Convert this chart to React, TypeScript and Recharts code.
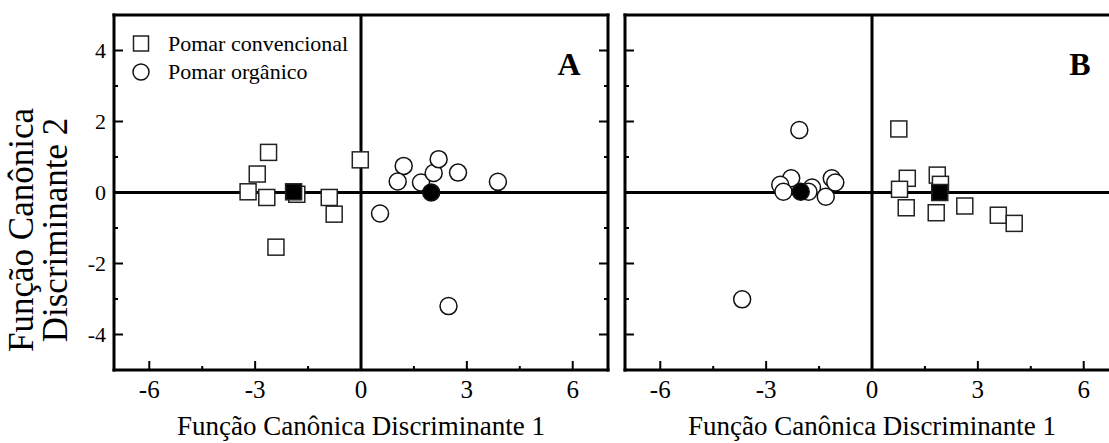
import React from 'react';
import { ScatterChart, Scatter, XAxis, YAxis, ReferenceLine } from 'recharts';

// ---------- data ----------
const xDomain: [number, number] = [-7, 7];
const yDomain: [number, number] = [-5, 5];
const xTicks = [-6, -4.5, -3, -1.5, 0, 1.5, 3, 4.5, 6];
const xTickLabels = [-6, -3, 0, 3, 6];
const yTicks = [-4, -3, -2, -1, 0, 1, 2, 3, 4];
const yTickLabels = [-4, -2, 0, 2, 4];

const convencionalA = [
  { x: -2.62, y: 1.13 },
  { x: -2.94, y: 0.52 },
  { x: -3.2, y: 0.02 },
  { x: -2.67, y: -0.14 },
  { x: -1.82, y: -0.05 },
  { x: -0.9, y: -0.14 },
  { x: -0.76, y: -0.61 },
  { x: -2.41, y: -1.54 },
  { x: -0.02, y: 0.92 },
];
const organicoA = [
  { x: 1.21, y: 0.75 },
  { x: 1.04, y: 0.31 },
  { x: 1.7, y: 0.28 },
  { x: 2.06, y: 0.55 },
  { x: 2.2, y: 0.94 },
  { x: 2.75, y: 0.56 },
  { x: 3.88, y: 0.3 },
  { x: 0.54, y: -0.59 },
  { x: 2.48, y: -3.2 },
];
const centroideConvA = [{ x: -1.91, y: 0.02 }];
const centroideOrgA = [{ x: 1.99, y: 0.0 }];

const convencionalB = [
  { x: 0.76, y: 1.79 },
  { x: 1.0, y: 0.4 },
  { x: 0.78, y: 0.09 },
  { x: 1.85, y: 0.49 },
  { x: 1.94, y: 0.23 },
  { x: 0.97, y: -0.43 },
  { x: 1.82, y: -0.57 },
  { x: 2.63, y: -0.38 },
  { x: 3.58, y: -0.64 },
  { x: 4.03, y: -0.87 },
];
const organicoB = [
  { x: -2.06, y: 1.76 },
  { x: -3.68, y: -3.01 },
  { x: -2.29, y: 0.4 },
  { x: -2.6, y: 0.22 },
  { x: -2.51, y: 0.02 },
  { x: -1.7, y: 0.14 },
  { x: -1.8, y: 0.02 },
  { x: -1.14, y: 0.4 },
  { x: -1.04, y: 0.28 },
  { x: -1.31, y: -0.12 },
];
const centroideConvB = [{ x: 1.92, y: 0.0 }];
const centroideOrgB = [{ x: -2.02, y: 0.02 }];

const legendLabels = ['Pomar convencional', 'Pomar orgânico'];
const xTitle = 'Função Canônica Discriminante 1';
const yTitleLines = ['Função Canônica', 'Discriminante 2'];

// ---------- styles ----------
const FONT = 'Liberation Serif, Times New Roman, serif';
const CHART_H = 443;
const MARGIN_TOP = 15;
const MARGIN_BOTTOM = 73;
const PLOT_W = 494;
const AX = 1; // axis box thickness (must be > 0 for the axis to render)

const squareShape = (fill: string) => (props: any) => {
  const { cx, cy } = props;
  if (cx == null || cy == null) return <g />;
  return <rect x={cx - 8} y={cy - 8} width={16} height={16} fill={fill} stroke="#222" strokeWidth={1.5} />;
};
const circleShape = (fill: string) => (props: any) => {
  const { cx, cy } = props;
  if (cx == null || cy == null) return <g />;
  return <circle cx={cx} cy={cy} r={8.5} fill={fill} stroke="#111" strokeWidth={1.5} />;
};

const makeTick = (side: 'bottom' | 'top' | 'left' | 'right', majors: number[], showLabel: boolean) =>
  (props: any) => {
    const { x, y, payload } = props;
    const v = payload.value;
    const major = majors.includes(v);
    const len = major ? 9 : 4;
    let line;
    if (side === 'bottom') line = <line x1={x} y1={y} x2={x} y2={y - len} />;
    else if (side === 'top') line = <line x1={x} y1={y} x2={x} y2={y + len} />;
    else if (side === 'left') line = <line x1={x} y1={y} x2={x + len} y2={y} />;
    else line = <line x1={x} y1={y} x2={x - len} y2={y} />;
    return (
      <g stroke="#000" strokeWidth={2}>
        {line}
        {showLabel && major && side === 'bottom' && (
          <text x={x} y={y + 28} textAnchor="middle" fontSize={25} fontFamily={FONT} fill="#000" stroke="none">
            {v}
          </text>
        )}
        {showLabel && major && side === 'left' && (
          <text x={x - 8} y={y + 7} textAnchor="end" fontSize={22} fontFamily={FONT} fill="#000" stroke="none">
            {v}
          </text>
        )}
      </g>
    );
  };

const axisLine = { stroke: '#000', strokeWidth: 3, strokeLinecap: 'square' as const };

function Panel(props: {
  width: number;
  marginLeft: number;
  marginRight: number;
  conv: { x: number; y: number }[];
  org: { x: number; y: number }[];
  cConv: { x: number; y: number }[];
  cOrg: { x: number; y: number }[];
  letter: string;
  showYLabels: boolean;
  children?: React.ReactNode;
}) {
  const { width, marginLeft, marginRight } = props;
  const plotCenter = marginLeft + PLOT_W / 2;
  return (
    <ScatterChart
      width={width}
      height={CHART_H}
      margin={{
        top: MARGIN_TOP - AX,
        right: marginRight - AX,
        bottom: MARGIN_BOTTOM - AX,
        left: marginLeft - AX,
      }}
    >
      <XAxis
        xAxisId={0}
        type="number"
        dataKey="x"
        domain={xDomain}
        ticks={xTicks}
        interval={0}
        allowDataOverflow
        height={AX}
        tickSize={0}
        tickMargin={0}
        tickLine={false}
        axisLine={axisLine}
        tick={makeTick('bottom', xTickLabels, true)}
      />
      <XAxis
        xAxisId="top"
        orientation="top"
        type="number"
        domain={xDomain}
        ticks={xTicks}
        interval={0}
        allowDataOverflow
        height={AX}
        tickSize={0}
        tickMargin={0}
        tickLine={false}
        axisLine={axisLine}
        tick={makeTick('top', xTickLabels, false)}
      />
      <YAxis
        yAxisId={0}
        type="number"
        dataKey="y"
        domain={yDomain}
        ticks={yTicks}
        interval={0}
        allowDataOverflow
        width={AX}
        tickSize={0}
        tickMargin={0}
        tickLine={false}
        axisLine={axisLine}
        tick={makeTick('left', yTickLabels, props.showYLabels)}
      />
      <YAxis
        yAxisId="right"
        orientation="right"
        type="number"
        domain={yDomain}
        ticks={yTicks}
        interval={0}
        allowDataOverflow
        width={AX}
        tickSize={0}
        tickMargin={0}
        tickLine={false}
        axisLine={axisLine}
        tick={makeTick('right', yTickLabels, false)}
      />
      <ReferenceLine x={0} stroke="#000" strokeWidth={3} />
      <ReferenceLine y={0} stroke="#000" strokeWidth={3} />
      <Scatter data={props.conv} isAnimationActive={false} shape={squareShape('#fff')} />
      <Scatter data={props.org} isAnimationActive={false} shape={circleShape('#fff')} />
      <Scatter data={props.cConv} isAnimationActive={false} shape={squareShape('#000')} />
      <Scatter data={props.cOrg} isAnimationActive={false} shape={circleShape('#000')} />
      <text
        x={marginLeft + PLOT_W - 39}
        y={75}
        textAnchor="middle"
        fontSize={32}
        fontWeight="bold"
        fontFamily={FONT}
        fill="#000"
      >
        {props.letter}
      </text>
      <text x={plotCenter} y={435} textAnchor="middle" fontSize={27} fontFamily={FONT} fill="#000">
        {xTitle}
      </text>
      {props.children}
    </ScatterChart>
  );
}

export default function App() {
  return (
    <div
      style={{
        position: 'fixed',
        left: 0,
        top: 0,
        width: 1109,
        height: 443,
        overflow: 'hidden',
        background: '#fff',
      }}
    >
      <div style={{ position: 'absolute', left: 0, top: 0 }}>
        <Panel
          width={620}
          marginLeft={114}
          marginRight={12}
          conv={convencionalA}
          org={organicoA}
          cConv={centroideConvA}
          cOrg={centroideOrgA}
          letter="A"
          showYLabels={true}
        >
          <g>
            <rect x={133.5} y={36} width={15} height={15} fill="#fff" stroke="#222" strokeWidth={1.5} />
            <text x={168} y={51} fontSize={22} fontFamily={FONT} fill="#000">
              {legendLabels[0]}
            </text>
            <circle cx={141} cy={72} r={8} fill="#fff" stroke="#111" strokeWidth={1.5} />
            <text x={168} y={79} fontSize={22} fontFamily={FONT} fill="#000">
              {legendLabels[1]}
            </text>
          </g>
          <text
            x={33}
            y={230}
            transform="rotate(-90 33 230)"
            textAnchor="middle"
            fontSize={35}
            fontFamily={FONT}
            fill="#000"
          >
            <tspan x={33} dy={0}>{yTitleLines[0]}</tspan>
            <tspan x={33} dy={34}>{yTitleLines[1]}</tspan>
          </text>
        </Panel>
      </div>
      <div style={{ position: 'absolute', left: 615, top: 0 }}>
        <Panel
          width={515}
          marginLeft={10}
          marginRight={11}
          conv={convencionalB}
          org={organicoB}
          cConv={centroideConvB}
          cOrg={centroideOrgB}
          letter="B"
          showYLabels={false}
        />
      </div>
    </div>
  );
}
